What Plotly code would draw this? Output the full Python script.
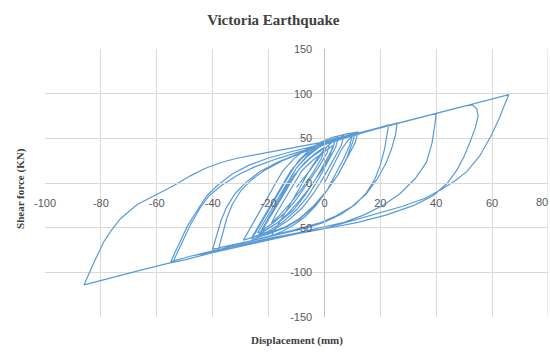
import plotly.graph_objects as go

# Hysteresis path (displacement mm, shear force kN), in path order
path_points = [
    (0, 0), (2, 12), (4, 25), (6, 37), (8, 46), (10, 53),
    (9, 42), (7, 28), (4, 10), (1, -8), (-3, -25), (-7, -38), (-11, -47), (-15, -54), (-19, -59),
    (-17, -48), (-14, -33), (-11, -17), (-8, 0), (-5, 16), (-2, 30), (1, 41), (4, 49), (7, 53),
    (6, 42), (3, 25), (0, 8), (-4, -12), (-8, -28), (-13, -42), (-18, -52), (-23, -60), (-26, -63),
    (-24, -52), (-21, -36), (-18, -20), (-15, -4), (-12, 12), (-9, 26), (-5, 38), (-1, 46), (3, 51), (8, 55), (12, 57),
    (11, 45), (8, 28), (5, 10), (1, -8), (-4, -27), (-9, -41), (-14, -50), (-20, -57), (-24, -61),
    (-22, -50), (-19, -34), (-16, -17), (-13, 0), (-10, 17), (-6, 31), (-2, 41), (2, 48), (5, 51),
    (4, 40), (1, 22), (-2, 5), (-6, -15), (-10, -30), (-15, -44), (-20, -54), (-25, -60), (-29, -64),
    (-27, -53), (-24, -37), (-21, -20), (-18, -3), (-15, 13), (-11, 27), (-7, 37), (-2, 44), (4, 50), (12, 56), (20, 62), (26, 67),
    (25.5, 55), (24, 38), (22, 22), (19, 5), (15, -12), (10, -26), (4, -37), (-2, -45), (-9, -51), (-18, -58), (-28, -66), (-40, -74),
    (-38.5, -58), (-37, -42), (-35, -27), (-32, -12), (-28, 1), (-23, 13), (-17, 23), (-10, 32), (-3, 40), (5, 48), (14, 57), (23, 65),
    (22.5, 54), (21.5, 38), (20, 20), (18, 4), (15, -11), (11, -24), (6, -35), (0, -44), (-6, -50), (-14, -56), (-24, -63), (-32, -69), (-38, -75),
    (-36.5, -58), (-35, -40), (-33, -24), (-30, -9), (-26, 4), (-21, 15), (-15, 25), (-8, 34), (0, 43), (10, 53), (20, 62), (30, 70), (40, 78),
    (39.5, 65), (38.5, 45), (36.5, 23), (32.5, 5), (27, -12), (21, -25), (14, -36), (7, -44), (0, -49), (-10, -56), (-20, -62), (-30, -69), (-40, -77), (-48, -82), (-55, -88),
    (-52, -68), (-49, -48), (-45, -28), (-42, -14), (-38, -2), (-33, 10), (-27, 20), (-20, 28), (-12, 35), (-4, 41), (5, 49), (15, 58), (25, 66), (35, 74), (45, 82), (50, 86), (53, 87.5),
    (54.5, 83), (55, 75), (54, 62), (52, 45), (50, 30), (47.5, 15), (44, 0), (39, -14), (32, -25), (22, -36), (12, -44), (4, -49), (-4, -53), (-12, -58), (-20, -63), (-30, -70), (-40, -76), (-48, -82), (-54, -87),
    (-51, -67), (-48, -47), (-44.5, -28), (-41.5, -15), (-37, -3), (-31, 9), (-25, 18), (-18, 26), (-10, 34), (-2, 41), (8, 51), (18, 60), (28, 68), (38, 76), (48, 84), (56, 91), (62, 96), (66, 99),
    (64.5, 88), (62.5, 72), (59.5, 52), (55.5, 30), (51, 13), (47, 3), (42, -7), (36, -17), (28, -26), (18, -35), (9, -43), (0, -51), (-10, -57), (-20, -64), (-30, -71), (-40, -78), (-50, -86), (-56, -90), (-65, -97), (-75, -105), (-86, -114),
    (-82.5, -89), (-79, -66), (-76, -52), (-73, -40), (-67, -24), (-61, -14), (-54, -3), (-48, 8), (-43, 16), (-37, 23), (-31, 28), (-24, 32), (-17, 36), (-8, 41), (0, 46), (6, 51), (11, 56),
    (10, 45), (8, 28), (5, 10), (1, -8), (-4, -26), (-9, -40), (-14, -49), (-20, -56), (-26, -61),
    (-24, -50), (-21, -34), (-18, -18), (-15, -2), (-12, 14), (-8, 28), (-4, 38), (0, 45), (4, 50),
    (3, 39), (0, 22), (-3, 5), (-7, -14), (-11, -30), (-16, -43), (-21, -52), (-24, -56),
    (-22, -45), (-19, -30), (-16, -14), (-13, 2), (-10, 17), (-6, 30), (-2, 40), (2, 46),
    (1, 34), (-2, 18), (-6, 0), (-10, -18), (-14, -33), (-18, -44), (-22, -52),
    (-20, -40), (-17, -24), (-14, -8), (-11, 8), (-7, 23), (-3, 34), (0, 40),
    (-1, 28), (-4, 12), (-8, -6), (-12, -22), (-16, -36), (-19, -45),
    (-17, -33), (-14, -17), (-11, -1), (-8, 14), (-4, 26), (-1, 33), (3, 42),
    (2, 30), (-1, 14), (-5, -4), (-9, -20), (-13, -34), (-17, -45), (-21, -53), (-23, -57),
    (-21, -46), (-18, -31), (-15, -15), (-12, 1), (-9, 16), (-5, 28), (-1, 37), (1, 41),
    (-5, 15), (-10, -5),
]
disp_mm = [p[0] for p in path_points]
force_kn = [p[1] for p in path_points]

x_ticks = [-100, -80, -60, -40, -20, 0, 20, 40, 60, 80]
y_ticks = [-150, -100, -50, 0, 50, 100, 150]

title_text = "Victoria Earthquake"
x_title = "Displacement (mm)"
y_title = "Shear force (KN)"

fig = go.Figure()
fig.add_trace(go.Scatter(
    x=disp_mm, y=force_kn, mode="lines",
    line=dict(color="#5b9bd5", width=1.2),
    showlegend=False, hoverinfo="skip",
))

tick_font = dict(family="Liberation Sans, Arial, sans-serif", size=11, color="#595959")
serif_bold = dict(family="Liberation Serif, Times New Roman, serif", color="#404040")

fig.update_layout(
    width=550, height=356,
    margin=dict(l=45, r=2, t=49, b=39),
    paper_bgcolor="white", plot_bgcolor="white",
    title=dict(text="<b>" + title_text + "</b>", x=0.497, xanchor="center",
               y=0.944, yanchor="middle", font=dict(size=15, **serif_bold)),
    xaxis=dict(
        range=[-100, 80], tickmode="array", tickvals=x_ticks[:-1],
        ticktext=[str(v) for v in x_ticks[:-1]],
        showgrid=True, gridcolor="#d9d9d9", gridwidth=1,
        zeroline=False, showline=True, linecolor="#d9d9d9", linewidth=1,
        anchor="free", position=0.5, ticks="", ticklabelstandoff=10,
        tickfont=tick_font, fixedrange=True,
    ),
    yaxis=dict(
        range=[-150, 150], tickmode="array", tickvals=y_ticks,
        ticktext=[str(v) for v in y_ticks],
        showgrid=True, gridcolor="#d9d9d9", gridwidth=1,
        zeroline=False, showline=True, linecolor="#bfbfbf", linewidth=1,
        anchor="free", position=100 / 180, ticks="", ticklabelstandoff=10,
        tickfont=tick_font, fixedrange=True,
    ),
    shapes=[
        dict(type="line", xref="x", yref="paper", x0=80, x1=80, y0=0, y1=1,
             line=dict(color="#d9d9d9", width=1), layer="below"),
    ],
    annotations=[
        dict(text=str(x_ticks[-1]), xref="x", yref="y", x=x_ticks[-1], y=0,
             xanchor="right", yanchor="middle", xshift=2, yshift=-19, showarrow=False,
             font=tick_font),
        dict(text="<b>" + x_title + "</b>", xref="paper", yref="paper",
             x=0.501, y=-0.086, xanchor="center", yanchor="middle",
             showarrow=False, font=dict(size=11, **serif_bold)),
        dict(text="<b>" + y_title + "</b>", xref="paper", yref="paper",
             x=-0.05, y=0.481, xanchor="center", yanchor="middle", textangle=-90,
             showarrow=False, font=dict(size=11, **serif_bold)),
    ],
)

fig.write_html("out.html")
